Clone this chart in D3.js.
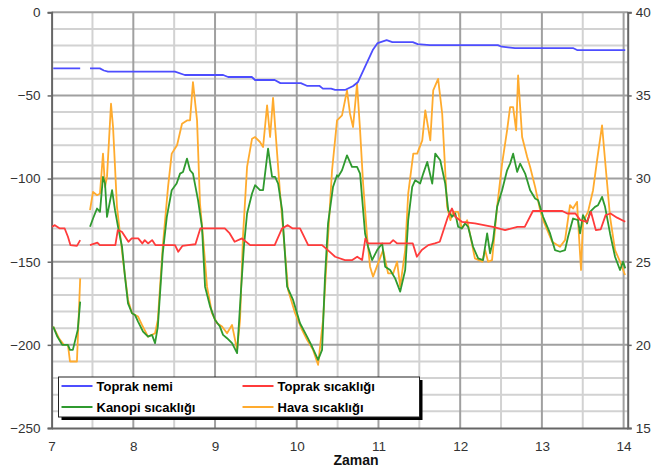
<!DOCTYPE html>
<html>
<head>
<meta charset="utf-8">
<script src="https://cdn.jsdelivr.net/npm/d3@7"></script>
<style>
  body { margin: 0; background: #fff; }
  svg { font-family: "Liberation Sans", Arial, sans-serif; }
</style>
</head>
<body>
<div id="chart"></div>
<script>
// time in days, null = gap in the record
const toprakNemi = [
  [7.02,-33.7],[7.35,-33.7], null,
  [7.47,-33.7],[7.59,-33.7],[7.64,-35],[7.69,-35.7],[8.51,-35.7],[8.63,-37.7],[9.10,-37.7],
  [9.16,-38.9],[9.45,-38.9],[9.49,-40.7],[9.73,-40.7],[9.80,-42.6],[10.05,-42.6],[10.13,-44.3],
  [10.28,-44.3],[10.32,-45.9],[10.42,-45.9],[10.47,-46.7],[10.59,-46.7],[10.69,-44.3],[10.75,-41.9],
  [10.93,-22.7],[10.99,-18.5],[11.10,-16.7],[11.17,-17.9],[11.42,-17.9],[11.48,-19.1],[11.63,-19.7],
  [12.46,-19.7],[12.51,-20.7],[12.67,-21.5],[13.38,-21.5],[13.43,-22.7],[14.02,-22.7]
]

const toprakSicakligi = [
  [7.005,27.1],[7.04,27.2],[7.10,27.0],[7.16,27.0],[7.20,26.5],[7.23,26.0],[7.31,25.95],[7.35,26.3], null,
  [7.47,26.0],[7.56,26.15],[7.59,26.0],[7.78,26.0],[7.81,26.9],[7.86,26.8],[7.94,26.2],[7.98,26.4],
  [8.06,26.4],[8.11,26.1],[8.14,26.3],[8.18,26.1],[8.23,26.3],[8.27,26.0],[8.51,26.0],[8.55,25.6],
  [8.60,25.95],[8.67,26.0],[8.76,26.05],[8.82,27.0],[9.12,27.0],[9.18,26.7],[9.24,26.2],[9.33,26.4],
  [9.43,26.0],[9.73,26.0],[9.82,27.0],[9.89,27.2],[9.95,27.0],[10.04,27.0],[10.14,26.0],[10.31,26.0],
  [10.38,25.7],[10.47,25.3],[10.59,25.1],[10.68,25.1],[10.74,25.3],[10.80,25.1],[10.84,26.4],[10.87,26.1],
  [11.14,26.1],[11.18,26.3],[11.23,26.1],[11.42,26.1],[11.47,25.3],[11.53,25.7],[11.61,26.0],[11.69,26.1],
  [11.75,26.2],[11.85,27.7],[11.90,28.2],[11.94,27.7],[12.02,27.4],[12.18,27.3],[12.40,27.1],[12.55,26.9],
  [12.70,27.1],[12.79,27.1],[12.89,28.05],[13.25,28.05],[13.31,27.9],[13.41,27.9],[13.47,27.5],[13.55,27.4],
  [13.60,28.0],[13.66,26.9],[13.72,26.95],[13.78,27.8],[13.84,27.9],[13.92,27.65],[14.02,27.4]
]

const kanopiSicakligi = [
  [7.02,21.1],[7.07,20.5],[7.13,20.0],[7.20,20.0],[7.225,19.7],[7.26,19.7],[7.32,20.9],[7.35,22.6], null,
  [7.47,27.1],[7.507,27.6],[7.556,28.2],[7.592,28.0],[7.629,30.1],[7.654,29.7],[7.678,27.7],[7.74,29.3],
  [7.776,28.1],[7.813,27.1],[7.862,25.9],[7.898,24.1],[7.935,22.5],[7.984,21.9],[8.02,21.8],[8.058,21.4],
  [8.119,20.8],[8.18,20.5],[8.229,20.6],[8.266,20.1],[8.30,21.1],[8.36,25.5],[8.41,27.7],[8.47,29.3],
  [8.53,29.7],[8.572,30.3],[8.608,30.4],[8.657,31.2],[8.694,30.5],[8.73,30.3],[8.792,28.7],[8.84,27.1],
  [8.878,23.5],[8.94,22.3],[9.0,21.5],[9.06,21.1],[9.098,20.6],[9.147,20.4],[9.208,20.1],[9.27,19.5],
  [9.318,23.3],[9.355,26.0],[9.392,27.9],[9.453,29.1],[9.49,29.6],[9.55,29.3],[9.588,29.3],[9.649,31.8],
  [9.698,30.1],[9.735,30.1],[9.772,29.7],[9.821,28.1],[9.882,23.5],[9.955,22.7],[10.04,21.3],[10.126,20.5],
  [10.187,19.9],[10.261,19.1],[10.31,19.7],[10.346,24.1],[10.383,27.3],[10.444,29.5],[10.493,30.2],
  [10.505,30.1],[10.554,30.5],[10.615,31.4],[10.676,30.7],[10.738,30.7],[10.775,30.3],[10.836,26.7],
  [10.873,25.9],[10.922,25.1],[10.984,25.7],[11.045,26.1],[11.082,24.7],[11.143,24.5],[11.204,24.0],
  [11.266,23.2],[11.327,24.5],[11.364,27.5],[11.413,29.5],[11.45,29.9],[11.51,29.7],[11.548,30.3],
  [11.597,31.0],[11.658,29.7],[11.695,31.5],[11.756,31.1],[11.817,29.7],[11.854,28.1],[11.90,27.7],
  [11.94,27.9],[11.975,27.1],[12.02,27.0],[12.06,27.3],[12.097,27.1],[12.158,25.9],[12.22,25.2],[12.28,25.1],
  [12.33,26.7],[12.366,25.5],[12.403,26.3],[12.452,28.3],[12.513,29.3],[12.574,30.5],[12.611,30.9],
  [12.648,31.5],[12.697,30.4],[12.734,30.9],[12.795,30.3],[12.856,29.3],[12.917,28.8],[12.954,28.7],
  [13.015,27.7],[13.10,26.7],[13.16,25.7],[13.222,25.6],[13.283,25.7],[13.32,26.5],[13.381,27.6],
  [13.442,27.5],[13.467,26.7],[13.503,27.8],[13.552,27.3],[13.589,28.0],[13.65,28.3],[13.687,28.4],
  [13.736,28.9],[13.773,28.3],[13.834,26.7],[13.895,25.3],[13.956,24.5],[13.993,25.0],[14.02,24.6]
]

const havaSicakligi = [
  [7.02,21.1],[7.09,20.4],[7.15,20.0],[7.20,20.0],[7.225,19.0],[7.31,19.0],[7.35,24.0], null,
  [7.47,28.1],[7.507,29.2],[7.556,29.0],[7.592,29.1],[7.629,31.5],[7.654,29.5],[7.678,30.1],[7.727,34.5],
  [7.752,33.1],[7.80,28.3],[7.837,26.7],[7.874,25.1],[7.935,22.7],[7.984,21.9],[8.058,21.7],[8.106,21.2],
  [8.18,20.5],[8.229,20.6],[8.266,20.7],[8.30,21.5],[8.36,25.9],[8.425,29.5],[8.47,31.5],[8.535,32.0],
  [8.596,33.3],[8.657,33.5],[8.694,33.5],[8.73,35.8],[8.78,33.5],[8.816,28.5],[8.853,26.5],[8.902,23.5],
  [8.963,21.9],[9.025,21.3],[9.086,21.1],[9.147,20.7],[9.208,21.2],[9.27,19.7],[9.306,21.5],[9.343,26.6],
  [9.392,30.7],[9.453,32.4],[9.49,32.5],[9.55,32.2],[9.588,31.9],[9.637,34.4],[9.674,32.5],[9.71,34.85],
  [9.76,31.5],[9.796,29.1],[9.857,25.5],[9.894,23.3],[9.98,21.9],[10.065,20.9],[10.126,20.3],[10.20,19.7],
  [10.261,18.8],[10.322,21.5],[10.371,25.5],[10.432,30.5],[10.493,33.5],[10.554,33.8],[10.615,35.3],
  [10.652,33.9],[10.689,33.1],[10.738,35.7],[10.775,32.9],[10.812,29.7],[10.861,26.5],[10.897,24.7],
  [10.934,24.1],[10.995,24.9],[11.057,25.7],[11.118,24.3],[11.18,24.3],[11.228,25.0],[11.266,23.5],
  [11.327,25.7],[11.364,29.1],[11.426,31.5],[11.474,31.5],[11.536,32.3],[11.573,34.1],[11.634,32.3],
  [11.67,35.3],[11.73,36.0],[11.78,33.9],[11.84,28.3],[11.88,27.5],[11.913,28.0],[11.975,28.0],[12.02,27.0],
  [12.085,27.5],[12.18,25.2],[12.27,25.0],[12.305,25.7],[12.342,25.0],[12.39,25.1],[12.452,28.3],
  [12.513,30.9],[12.574,32.9],[12.611,34.3],[12.648,34.3],[12.685,32.9],[12.709,36.2],[12.758,32.5],
  [12.82,31.3],[12.856,30.7],[12.917,29.5],[12.978,28.1],[13.015,27.5],[13.125,26.2],[13.222,25.9],
  [13.283,26.3],[13.344,28.4],[13.381,28.2],[13.43,28.6],[13.442,27.5],[13.479,24.5],[13.503,27.4],
  [13.564,28.0],[13.626,29.3],[13.675,31.1],[13.736,33.2],[13.773,31.1],[13.834,27.7],[13.895,25.7],
  [13.956,25.0],[14.017,24.2]
]

const dayTicks = [7, 8, 9, 10, 11, 12, 13, 14]
const halfDayLines = [7.5, 8.5, 9.5, 10.5, 11.5, 12.5, 13.5]
const leftTicks = [0, -50, -100, -150, -200, -250]
const rightTicks = [40, 35, 30, 25, 20, 15]
const legendItems = [
  { name: "Toprak nemi", color: "#4d4dff" },
  { name: "Toprak sıcaklığı", color: "#ff3b3b" },
  { name: "Kanopi sıcaklığı", color: "#2f9a2f" },
  { name: "Hava sıcaklığı", color: "#ffab2e" }
]

const W = 651, H = 470
const M = { top: 12.3, right: 23.3, bottom: 42, left: 51.6 }

const svg = d3.select("#chart").append("svg")
  .attr("width", W).attr("height", H)

const x = d3.scaleLinear().domain([7, 14.05]).range([M.left, W - M.right])
const yL = d3.scaleLinear().domain([-250, 0]).range([H - M.bottom, M.top])
const yR = d3.scaleLinear().domain([15, 40]).range([H - M.bottom, M.top])

// grid
const grid = svg.append("g")
grid.selectAll(".hminor")
  .data(d3.range(-240, 0, 10).filter(v => v % 50 !== 0))
  .join("line")
  .attr("x1", M.left).attr("x2", W - M.right)
  .attr("y1", d => yL(d)).attr("y2", d => yL(d))
  .attr("stroke", "#d2d2d2").attr("stroke-width", 2)
grid.selectAll(".vminor")
  .data(halfDayLines)
  .join("line")
  .attr("x1", d => x(d)).attr("x2", d => x(d))
  .attr("y1", M.top).attr("y2", H - M.bottom)
  .attr("stroke", "#d2d2d2").attr("stroke-width", 2)
grid.selectAll(".hmajor")
  .data(leftTicks.slice(0, -1))
  .join("line")
  .attr("x1", M.left).attr("x2", W - M.right)
  .attr("y1", d => yL(d)).attr("y2", d => yL(d))
  .attr("stroke", "#a0a0a0").attr("stroke-width", 2)
grid.selectAll(".vmajor")
  .data(dayTicks.slice(1))
  .join("line")
  .attr("x1", d => x(d)).attr("x2", d => x(d))
  .attr("y1", M.top).attr("y2", H - M.bottom)
  .attr("stroke", "#a0a0a0").attr("stroke-width", 2)

// axes
const axisL = svg.append("g")
  .attr("transform", `translate(${M.left},0)`)
  .call(d3.axisLeft(yL).tickValues(leftTicks).tickSize(4).tickPadding(7))
const axisR = svg.append("g")
  .attr("transform", `translate(${W - M.right},0)`)
  .call(d3.axisRight(yR).tickValues(rightTicks).tickSize(4).tickPadding(4))
const axisB = svg.append("g")
  .attr("transform", `translate(0,${H - M.bottom})`)
  .call(d3.axisBottom(x).tickValues(dayTicks).tickFormat(d3.format("d")).tickSize(0).tickPadding(13))

;[axisL, axisR, axisB].forEach(a => {
  a.select(".domain").attr("stroke", "#666").attr("stroke-width", 2)
  a.selectAll(".tick line").attr("stroke", "#666").attr("stroke-width", 1.5)
  a.selectAll(".tick text")
    .attr("font-size", "13.5px")
    .attr("fill", "#333")
    .attr("font-family", "'Liberation Sans', Arial, sans-serif")
})

svg.append("text")
  .attr("x", 356).attr("y", 465)
  .attr("text-anchor", "middle")
  .attr("font-size", "14px")
  .attr("font-weight", "bold")
  .attr("fill", "#111")
  .text("Zaman")

// series
const lineL = d3.line().defined(d => d).x(d => x(d[0])).y(d => yL(d[1]))
const lineR = d3.line().defined(d => d).x(d => x(d[0])).y(d => yR(d[1]))

const series = [
  { data: havaSicakligi, line: lineR, color: legendItems[3].color },
  { data: kanopiSicakligi, line: lineR, color: legendItems[2].color },
  { data: toprakSicakligi, line: lineR, color: legendItems[1].color },
  { data: toprakNemi, line: lineL, color: legendItems[0].color }
]

svg.append("g").selectAll("path")
  .data(series)
  .join("path")
  .attr("d", d => d.line(d.data))
  .attr("fill", "none")
  .attr("stroke", d => d.color)
  .attr("stroke-width", 1.8)
  .attr("stroke-linejoin", "round")

// legend
const lg = svg.append("g").attr("transform", "translate(58.5,377)")
lg.append("rect")
  .attr("x", 3).attr("y", 3).attr("width", 361).attr("height", 40)
  .attr("fill", "#000")
lg.append("rect")
  .attr("x", 0).attr("y", 0).attr("width", 361).attr("height", 40)
  .attr("fill", "#fff").attr("stroke", "#222").attr("stroke-width", 1)

const legendPos = [[0, 0], [181, 0], [0, 1], [181, 1]]
legendItems.forEach((item, i) => {
  const [ox, row] = legendPos[i]
  const yy = 9 + row * 21
  lg.append("line")
    .attr("x1", 3 + ox).attr("x2", 34 + ox)
    .attr("y1", yy).attr("y2", yy)
    .attr("stroke", item.color).attr("stroke-width", 2)
  lg.append("text")
    .attr("x", 38 + ox).attr("y", yy + 4.5)
    .attr("font-size", "13px")
    .attr("font-weight", "bold")
    .attr("fill", "#000")
    .text(item.name)
})
</script>
</body>
</html>
